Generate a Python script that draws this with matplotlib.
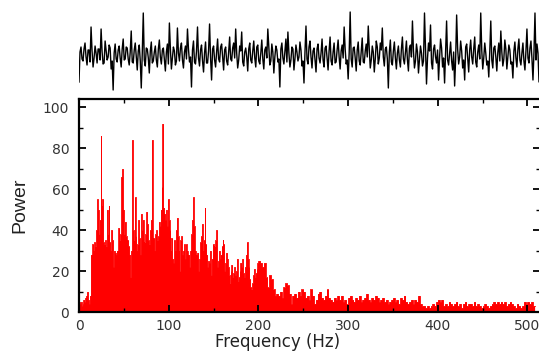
import numpy as np
import matplotlib
matplotlib.use("Agg")
import matplotlib.pyplot as plt
from matplotlib.ticker import MultipleLocator

# ---------------- data ----------------
# time-domain trace (arbitrary units): even samples
signal_a = [
    -27, 8, -6, 12, -10, 5, 28, -12, 9, -8,
    6, 26, -9, 14, -5, 10, -14, -35, 11, -7,
    9, -12, 16, -4, 7, -10, 24, -8, 12, -15,
    10, -33, 42, -11, 6, -18, 13, -6, 9, -12,
    15, -9, 7, -16, 11, 32, -14, 8, -10, 27,
    -6, 12, -13, 9, 26, -7, -32, 14, -9, 28,
    -11, 10, -17, 13, -8, 31, -25, 9, -12, 16,
    -7, 11, -15, 8, -10, 18, -6, 12, 26, -13,
    9, 23, -11, 7, -16, 12, -8, 14, -12, 10,
    -9, 15, -14, 8, 26, -10, 11, -18, 9, -7,
    -32, 12, -9, 16, 23, -12, 8, -15, 10, -6,
    13, -11, -28, 29, -9, 14, -13, 7, -17, 11,
    -8, 16, -12, 9, -15, 18, -10, 12, -7, 15,
    -14, 10, 28, -9, -24, 43, -12, 8, -16, 13,
    -10, 17, -8, 11, 29, -13, 9, -17, 14, -9,
    12, 27, -11, 8, -33, 15, -10, 13, -14, 9,
    -12, 18, -9, 14, -16, 10, 34, -13, 11, -18,
    9, -11, 42, -29, 12, 30, -14, 10, -8, -25,
    16, -12, -28, 34, -10, 13, -15, -31, 40, -9,
    14, -13, -25, 11, -17, 15, -9, 18, -12, 10,
    42, -14, 12, -10, -22, 34, -13, 9, -16, 12,
    24, -11, 15, -14, 10, -9, -23, 13, -12, 16,
    -10, 12, -15, 26, -8, 14, -25, 42, 11, -27,
]
# odd samples (in between)
signal_b = [
    3, -4, 6, -2, 5, -7, 4, -3, 2, 6,
    -5, 3, -8, 4, -2, 7, -6, 2, -4, 5,
    -3, 6, -5, 8, -4, 3, -7, 5, -2, 4,
    -6, 2, -5, 7, -3, 4, -8, 3, -5, 6,
    -2, 5, -4, 3, -9, 6, -3, 4, -6, 2,
    7, -5, 3, -4, 6, -2, 5, -7, 4, -3,
    5, -6, 2, -8, 4, -3, 6, -5, 3, -4,
    8, -2, 5, -6, 3, -4, 7, -3, 2, -5,
    4, -7, 3, -2, 6, -5, 4, -3, 8, -6,
    2, -4, 5, -3, 7, -6, 3, -2, 5, -4,
    6, -3, 4, -7, 2, -5, 6, -4, 3, -2,
    5, -6, 3, -4, 8, -2, 4, -5, 6, -3,
    2, -5, 7, -3, 4, -6, 3, -8, 5, -2,
    4, -3, 6, -5, 2, -4, 7, -3, 5, -6,
    3, -7, 4, -2, 6, -5, 3, -4, 8, -3,
    5, -2, 6, -4, 3, -7, 4, -3, 2, -5,
    6, -4, 3, -5, 7, -2, 4, -6, 3, -4,
    2, -6, 5, -3, 4, -8, 6, -2, 5, -3,
    7, -3, 4, -5, 2, -6, 3, -4, 6, -2,
    4, -5, 8, -3, 5, -2, 6, -7, 3, -4,
    5, -3, 2, -6, 4, -5, 7, -2, 3, -6,
    3, -4, 6, -2, 5, -7, 4, -3, 6, -5,
    2, -6, 4, -3, 7, -4, 3, -5, 2, -4,
]

# power spectrum: 1 Hz bins from 0 Hz
power_low = [
    5, 4, 5, 3, 4, 6, 5, 7, 8, 10, 6, 4, 8,
    28, 18, 33, 30, 34, 32, 40, 55, 50, 38, 45, 86, 52, 55, 34, 33, 35,
    32, 50, 38, 52, 34, 30, 40, 35, 22, 30, 29, 28, 30, 29, 41, 35, 38,
    66, 70, 50, 38, 44, 37, 30, 35, 32, 28, 17, 30, 84, 40, 35, 56, 37,
    30, 33, 45, 36, 28, 48, 40, 45, 30, 34, 38, 49, 43, 35, 33, 40, 45,
    84, 33, 36, 30, 38, 40, 35, 37, 44, 42, 50, 61, 92, 51, 48, 45, 50,
    42, 55, 45, 40, 30, 36, 26, 24, 35, 30, 40, 46, 37, 30, 20, 35, 37,
    28, 30, 33, 26, 33, 30, 24, 28, 22, 30, 38, 45, 56, 42, 30, 24, 28,
    29, 20, 26, 34, 37, 43, 30, 35, 51, 33, 28, 22, 25, 24, 30, 18, 26,
    33, 28, 32, 35, 40, 22, 25, 30, 26, 28, 32, 35, 33, 20, 24, 29, 26,
    22, 18, 14, 20, 23, 17, 19, 22, 18, 20, 26, 15, 17, 20, 24, 22, 26,
    19, 17, 22, 28, 34, 26, 22, 16, 12, 11, 14, 18, 21, 17, 19, 21, 24,
]
# power spectrum: 2 Hz bins from 200 Hz
power_high = [
    25, 24, 22, 24, 17, 12, 18, 16, 11, 8, 9, 8, 10, 7, 12, 14, 13, 9, 4, 8,
    9, 7, 10, 8, 11, 10, 7, 8, 6, 11, 8, 4, 6, 9, 10, 7, 6, 8, 11, 7,
    6, 5, 7, 6, 8, 6, 8, 5, 6, 4, 7, 8, 6, 5, 7, 6, 8, 5, 6, 7,
    9, 6, 5, 7, 6, 8, 7, 5, 6, 7, 5, 6, 4, 5, 6, 7, 5, 6, 4, 7,
    6, 8, 5, 4, 5, 6, 4, 6, 5, 8, 4, 3, 3, 2, 3, 2, 3, 4, 3, 5,
    6, 5, 6, 3, 4, 3, 5, 4, 3, 4, 5, 3, 4, 2, 4, 5, 3, 4, 4, 3,
    5, 3, 4, 3, 2, 3, 4, 3, 2, 3, 4, 5, 4, 5, 4, 5, 4, 5, 3, 4,
    5, 4, 3, 2, 4, 3, 2, 3, 5, 4, 5, 4, 5, 3,
]

x_ticks = [0, 100, 200, 300, 400, 500]
y_ticks = [0, 20, 40, 60, 80, 100]

# ---------------- figure ----------------
W, H = 539, 351
fig = plt.figure(figsize=(W / 100, H / 100), dpi=100)
fig.patch.set_facecolor("white")

signal = np.empty(len(signal_a) + len(signal_b))
signal[0::2] = signal_a
signal[1::2] = signal_b

# top trace
ax_t = fig.add_axes([79 / W, 1 - 95 / H, 461 / W, 88 / H])
ax_t.plot(np.arange(len(signal)), signal, color="black", lw=1.0)
ax_t.set_xlim(0, len(signal) - 1)
ax_t.set_ylim(-40, 48)
ax_t.axis("off")

# bottom spectrum
ax = fig.add_axes([79 / W, 1 - 312 / H, 461 / W, 213 / H])
f_low = np.arange(len(power_low)) * 1.0
f_high = 200 + 2.0 * np.arange(len(power_high))
freqs = np.concatenate([f_low, f_high, [f_high[-1] + 2]])
pw = np.concatenate([power_low, power_high, [power_high[-1]]]).astype(float)
ax.fill_between(freqs, pw, step="post", color="#ff0000", lw=0)
ax.step(freqs, pw, where="post", color="#ff0000", lw=0.6)

ax.set_xlim(0, 514)
ax.set_ylim(0, 104)
ax.set_xticks(x_ticks)
ax.set_yticks(y_ticks)
ax.xaxis.set_minor_locator(MultipleLocator(50))
ax.yaxis.set_minor_locator(MultipleLocator(10))
ax.tick_params(which="both", direction="in", top=True, right=True,
               colors="black", labelcolor="#333333", labelsize=10)
ax.tick_params(which="major", length=5, width=1.3)
ax.tick_params(which="minor", length=3, width=1.0)
ax.tick_params(axis="y", pad=7)
ax.tick_params(axis="x", pad=5)
for s in ax.spines.values():
    s.set_linewidth(1.6)
    s.set_color("black")
ax.set_axisbelow(False)

ax.set_ylabel("Power", fontsize=14, family="Liberation Sans", color="#222222")
ax.yaxis.set_label_coords(-(79 - 28) / 461, 0.5)
fig.text(278 / W, 1 - 342 / H, "Frequency (Hz)", fontsize=12, color="#222222",
         ha="center", va="center")

fig.savefig("out.png", dpi=100, facecolor="white")
